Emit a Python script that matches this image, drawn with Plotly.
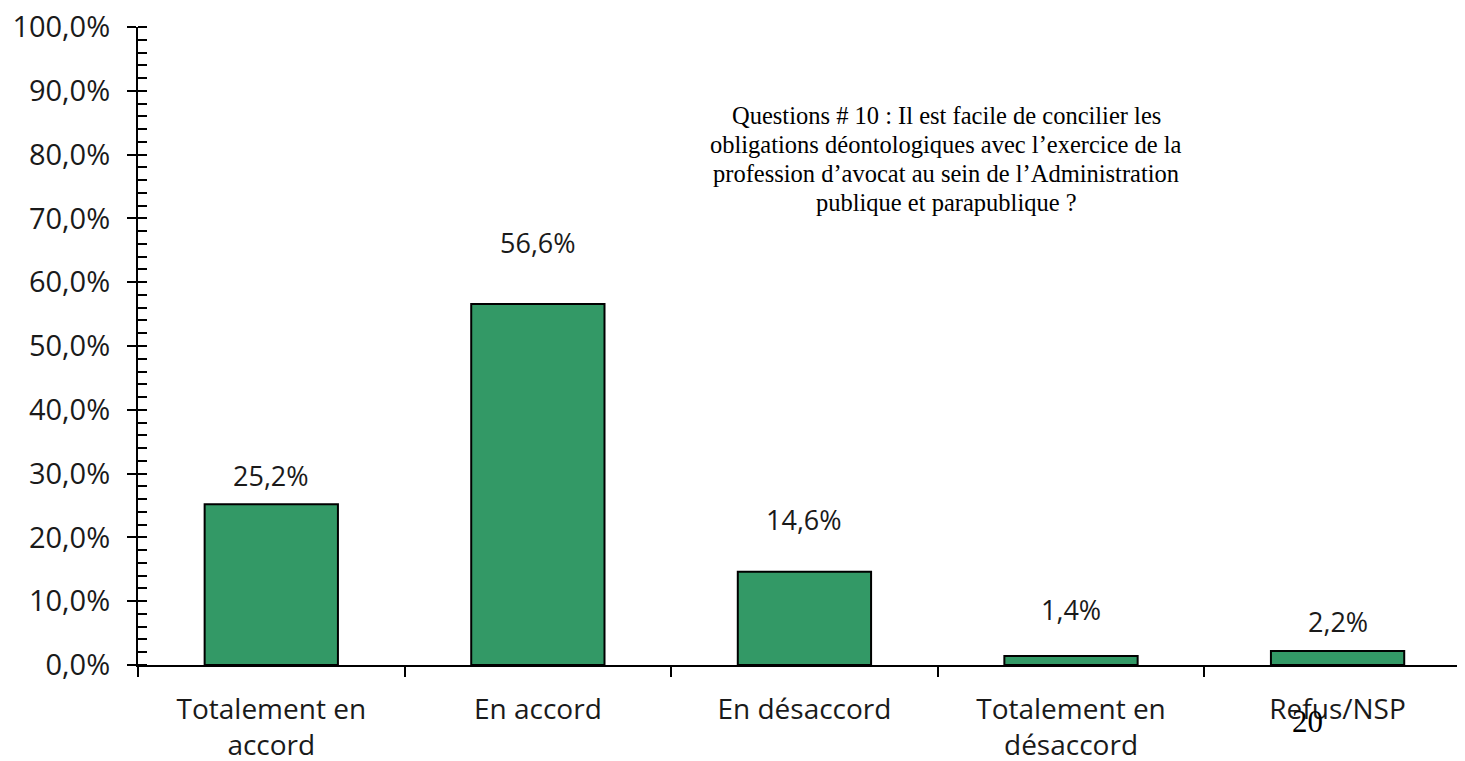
import plotly.graph_objects as go

# Data
categories = ['Totalement en<br>accord', 'En accord', 'En désaccord',
              'Totalement en<br>désaccord', 'Refus/NSP']
values = [25.2, 56.6, 14.6, 1.4, 2.2]
y_ticks = [0, 10, 20, 30, 40, 50, 60, 70, 80, 90, 100]
y_tick_labels = ['0,0%', '10,0%', '20,0%', '30,0%', '40,0%', '50,0%',
                 '60,0%', '70,0%', '80,0%', '90,0%', '100,0%']

title_lines = ["Questions # 10 : Il est facile de concilier les",
               "obligations déontologiques avec l’exercice de la",
               "profession d’avocat au sein de l’Administration",
               "publique et parapublique ?"]
page_number = "20"

# Styling
bar_color = '#339966'
label_shift = [29, 61, 52, 47, 29]  # px above each bar top, as in the original
sans = 'Open Sans'
serif = 'Liberation Serif'
text_color = '#1a1a1a'

fig = go.Figure()

fig.add_trace(go.Bar(
    x=categories,
    y=values,
    marker=dict(color=bar_color, line=dict(color='black', width=2)),
    showlegend=False,
    hoverinfo='skip'
))

# Value labels above the bars
for cat, val, shift in zip(categories, values, label_shift):
    fig.add_annotation(
        x=cat, y=val,
        text=f"{val:.1f}".replace('.', ',') + '%',
        showarrow=False,
        yanchor='middle',
        yshift=shift,
        font=dict(family=sans, size=27, color=text_color)
    )

# Question text, one annotation per line to keep the tight line spacing
for i, line in enumerate(title_lines):
    fig.add_annotation(
        xref='paper', yref='paper',
        x=0.609, y=0.862,
        yshift=-29 * i,
        text=line,
        showarrow=False,
        xanchor='center', yanchor='middle',
        font=dict(family=serif, size=24.5, color='black')
    )

# Page number overlapping the last label
fig.add_annotation(
    xref='paper', yref='paper',
    x=0.881, y=-0.0878,
    text=page_number,
    showarrow=False,
    xanchor='center', yanchor='middle',
    font=dict(family=serif, size=31, color='black')
)

fig.update_layout(
    width=1457,
    height=753,
    margin=dict(l=130, r=0, t=19, b=96),
    paper_bgcolor='white',
    plot_bgcolor='white',
    bargap=0.5,
    xaxis=dict(
        type='category',
        range=[-0.5, 4.478],
        automargin=False,
        showline=True,
        linecolor='black',
        linewidth=2,
        ticks='outside',
        tickson='boundaries',
        ticklen=10,
        tickwidth=2,
        tickcolor='black',
        showgrid=False,
        tickfont=dict(family=sans, size=28, color=text_color),
        ticklabelstandoff=18,
        ticklabeloverflow='allow'
    ),
    yaxis=dict(
        range=[0, 100],
        automargin=False,
        tickvals=y_ticks,
        ticktext=y_tick_labels,
        showline=True,
        linecolor='black',
        linewidth=2,
        ticks='outside',
        ticklen=9,
        tickwidth=2,
        tickcolor='black',
        showgrid=False,
        zeroline=False,
        minor=dict(ticks='inside', dtick=2, ticklen=9, tickwidth=2,
                   tickcolor='black', showgrid=False),
        tickfont=dict(family=sans, size=29, color=text_color),
        ticklabelstandoff=11,
        ticklabeloverflow='allow'
    ),
    # overlay axis only to draw the inner half of the major ticks
    yaxis2=dict(
        overlaying='y',
        anchor='x',
        side='left',
        range=[0, 100],
        automargin=False,
        tickvals=y_ticks,
        ticks='inside',
        ticklen=9,
        tickwidth=2,
        tickcolor='black',
        showticklabels=False,
        showline=False,
        showgrid=False,
        zeroline=False
    )
)

fig.write_html("out.html")
